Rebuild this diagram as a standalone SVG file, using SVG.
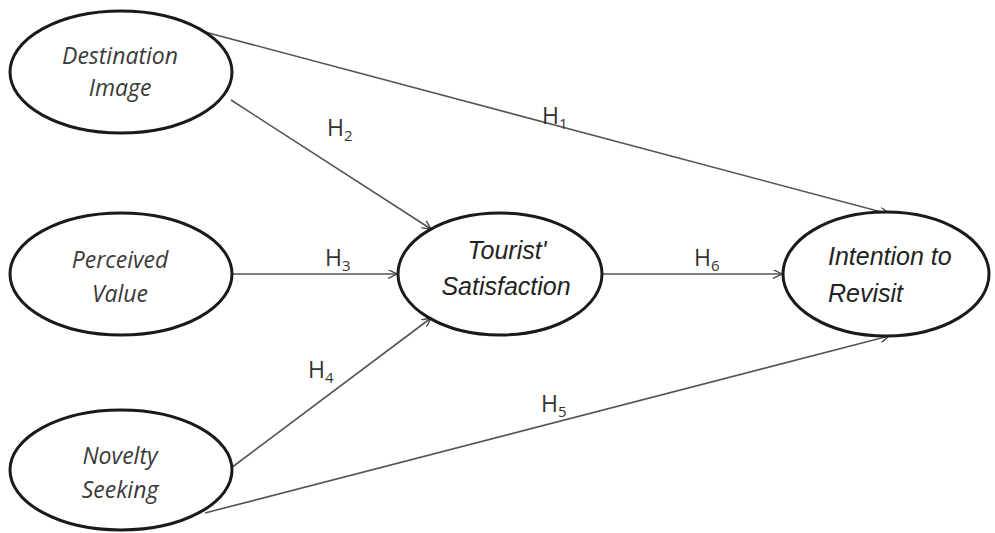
<svg xmlns="http://www.w3.org/2000/svg" width="995" height="533" viewBox="0 0 995 533">
<defs>
<marker id="arr" viewBox="0 0 10 10" refX="10" refY="5" markerWidth="9" markerHeight="9" markerUnits="userSpaceOnUse" orient="auto">
<path d="M0,0 L10,5 L0,10" fill="none" stroke="#444" stroke-width="1.5"/>
</marker>
<style>
.node ellipse{fill:#fff;stroke:#1a1a1a;stroke-width:3}
.lt{font-family:"Open Sans","Noto Sans",sans-serif;font-style:italic;font-size:23px;fill:#3a3a3a;text-anchor:middle}
.rt{font-family:"Liberation Sans",Arial,sans-serif;font-style:italic;font-size:25px;fill:#222}
.edge line{stroke:#555;stroke-width:1.6;marker-end:url(#arr)}
.lab{font-family:"Open Sans","Noto Sans",sans-serif;font-size:23px;fill:#333}
.sub{font-size:15px}
</style>
</defs>
<rect width="995" height="533" fill="#fff"/>
<g id="connectors" class="edge">
<line x1="205" y1="32" x2="889" y2="214"/>
<line x1="231" y1="100" x2="431" y2="229"/>
<line x1="232" y1="274" x2="397" y2="274"/>
<line x1="231" y1="468" x2="431" y2="318"/>
<line x1="205" y1="513" x2="889" y2="336"/>
<line x1="602" y1="274" x2="782" y2="274"/>
</g>
<g id="labels">
<text class="lab" x="542" y="124">H<tspan class="sub" dy="5">1</tspan></text>
<text class="lab" x="327" y="136">H<tspan class="sub" dy="5">2</tspan></text>
<text class="lab" x="325" y="266">H<tspan class="sub" dy="5">3</tspan></text>
<text class="lab" x="308" y="378">H<tspan class="sub" dy="5">4</tspan></text>
<text class="lab" x="541" y="412">H<tspan class="sub" dy="5">5</tspan></text>
<text class="lab" x="694" y="266">H<tspan class="sub" dy="5">6</tspan></text>
</g>
<g id="destination-image" class="node">
<ellipse cx="121" cy="72" rx="111" ry="61"/>
<text class="lt" x="120" y="64">Destination</text>
<text class="lt" x="120" y="96">Image</text>
</g>
<g id="perceived-value" class="node">
<ellipse cx="121" cy="274" rx="111" ry="61"/>
<text class="lt" x="120" y="268">Perceived</text>
<text class="lt" x="120" y="302">Value</text>
</g>
<g id="novelty-seeking" class="node">
<ellipse cx="121" cy="470" rx="111" ry="60"/>
<text class="lt" x="120" y="464">Novelty</text>
<text class="lt" x="120" y="498">Seeking</text>
</g>
<g id="tourist-satisfaction" class="node">
<ellipse cx="500" cy="274" rx="102" ry="61"/>
<text class="rt" x="507" y="259" text-anchor="middle">Tourist'</text>
<text class="rt" x="506" y="295" text-anchor="middle">Satisfaction</text>
</g>
<g id="intention-to-revisit" class="node">
<ellipse cx="886" cy="274" rx="103" ry="62"/>
<text class="rt" x="828" y="265">Intention to</text>
<text class="rt" x="828" y="302">Revisit</text>
</g>
</svg>
